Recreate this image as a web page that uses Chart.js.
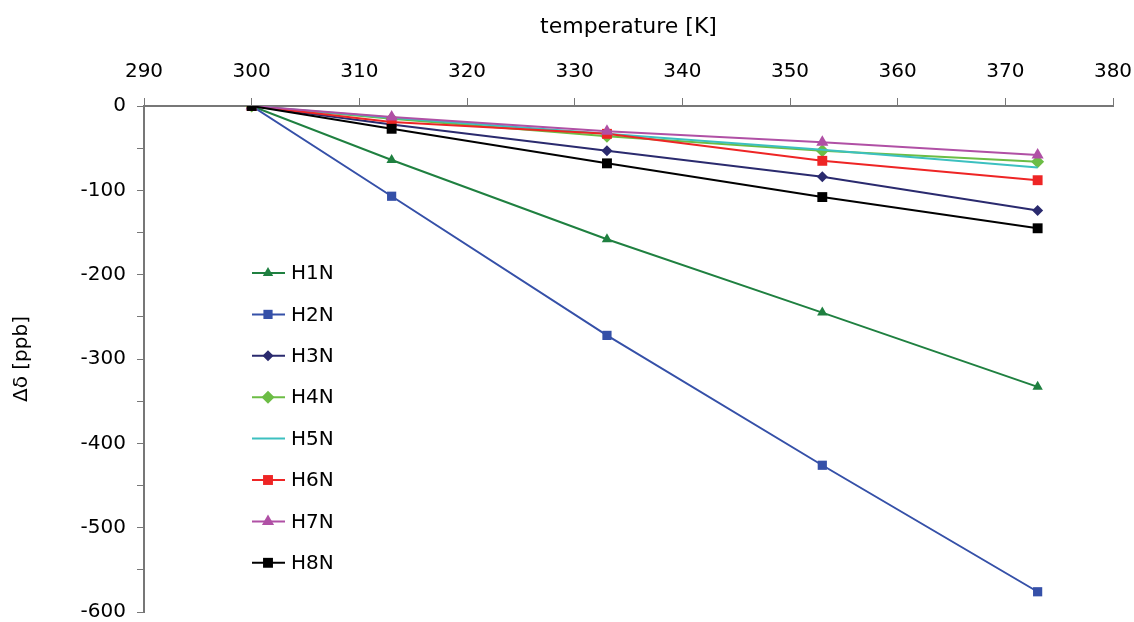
<!DOCTYPE html>
<html>
<head>
<meta charset="utf-8">
<script src="https://cdn.jsdelivr.net/npm/chart.js@4/dist/chart.umd.min.js"></script>
<style>
  html, body { margin: 0; padding: 0; background: #fff; }
  #wrap { width: 1134px; height: 622px; position: relative; }
</style>
</head>
<body>
<div id="wrap"><canvas id="chart"></canvas></div>
<script>
const temperatures = [300, 313, 333, 353, 373];
const seriesNames = ["H1N", "H2N", "H3N", "H4N", "H5N", "H6N", "H7N", "H8N"];
const h1n = [0, -64, -158, -245, -333];
const h2n = [0, -107, -272, -426, -576];
const h3n = [0, -22, -53, -84, -124];
const h4n = [0, -15, -36, -53, -66];
const h5n = [0, -14, -33, -52, -73];
const h6n = [0, -19, -33, -65, -88];
const h7n = [0, -13, -30, -43, -58];
const h8n = [0, -27, -68, -108, -145];
const seriesValues = [h1n, h2n, h3n, h4n, h5n, h6n, h7n, h8n];
const colors = ["#1f8040", "#3550a8", "#2a2a6e", "#6cbd45", "#3cc0c0", "#ee2525", "#b050a5", "#000000"];
const markers = ["triangle", "rect", "rectRot", "rectRot", "line", "rect", "triangle", "rect"];
const markerSizes = [6, 6.5, 5.5, 6.5, 5, 7, 7, 7];

const datasets = seriesNames.map((name, i) => ({
  label: name,
  data: temperatures.map((t, j) => ({ x: t, y: seriesValues[i][j] })),
  borderColor: colors[i],
  backgroundColor: colors[i],
  borderWidth: 2,
  pointStyle: markers[i],
  pointRadius: markers[i] === "line" ? 0 : markerSizes[i],
  pointBorderWidth: 0,
  order: seriesNames.length - i,
  tension: 0
}));

// legend drawn inside the plot, like the original
const insideLegend = {
  id: "insideLegend",
  afterDatasetsDraw(chart) {
    const ctx = chart.ctx;
    ctx.save();
    ctx.font = "20px 'DejaVu Sans', sans-serif";
    ctx.textBaseline = "middle";
    chart.data.datasets.forEach((ds, i) => {
      const y = 273 + i * 41.4;
      ctx.strokeStyle = ds.borderColor;
      ctx.lineWidth = 2;
      ctx.beginPath();
      ctx.moveTo(252, y);
      ctx.lineTo(285, y);
      ctx.stroke();
      if (ds.pointStyle !== "line") {
        ctx.fillStyle = ds.backgroundColor;
        Chart.helpers.drawPoint(ctx, {
          pointStyle: ds.pointStyle,
          radius: ds.pointRadius,
          borderWidth: 0
        }, 268, y);
      }
      ctx.fillStyle = "#000";
      ctx.fillText(ds.label, 291, y + 1);
    });
    ctx.restore();
  }
};

Chart.defaults.font.family = "'DejaVu Sans', sans-serif";
Chart.defaults.color = "#000";

new Chart(document.getElementById("chart"), {
  type: "line",
  data: { datasets },
  plugins: [insideLegend],
  options: {
    responsive: true,
    maintainAspectRatio: false,
    animation: false,
    layout: { padding: { top: 0, right: 21, bottom: 10, left: 0 } },
    plugins: {
      legend: { display: false },
      tooltip: { enabled: false }
    },
    scales: {
      x: {
        type: "linear",
        position: "top",
        min: 290,
        max: 380,
        ticks: { stepSize: 10, font: { size: 20 }, padding: 14, maxRotation: 0 },
        grid: { drawOnChartArea: false, drawTicks: true, tickLength: 8, color: "#777" },
        border: { color: "#777", width: 2 },
        title: { display: true, text: "temperature [K]", font: { size: 22 }, padding: { top: 14, bottom: 0 } },
        afterFit(scale) {
          scale.height = 106;
          scale.paddingLeft = 0;
          scale.paddingRight = 0;
        }
      },
      y: {
        min: -600,
        max: 0,
        ticks: {
          stepSize: 50,
          font: { size: 20 },
          padding: 11,
          callback: (v) => (v % 100 === 0 ? v : "")
        },
        grid: { drawOnChartArea: false, drawTicks: true, tickLength: 7, color: "#777" },
        border: { color: "#777", width: 2 },
        title: { display: true, text: "Δδ [ppb]", font: { size: 20 }, padding: { top: 10, bottom: 0 } },
        afterFit(scale) {
          scale.width = 144;
          scale.paddingTop = 0;
          scale.paddingBottom = 0;
        }
      }
    }
  }
});
</script>
</body>
</html>
